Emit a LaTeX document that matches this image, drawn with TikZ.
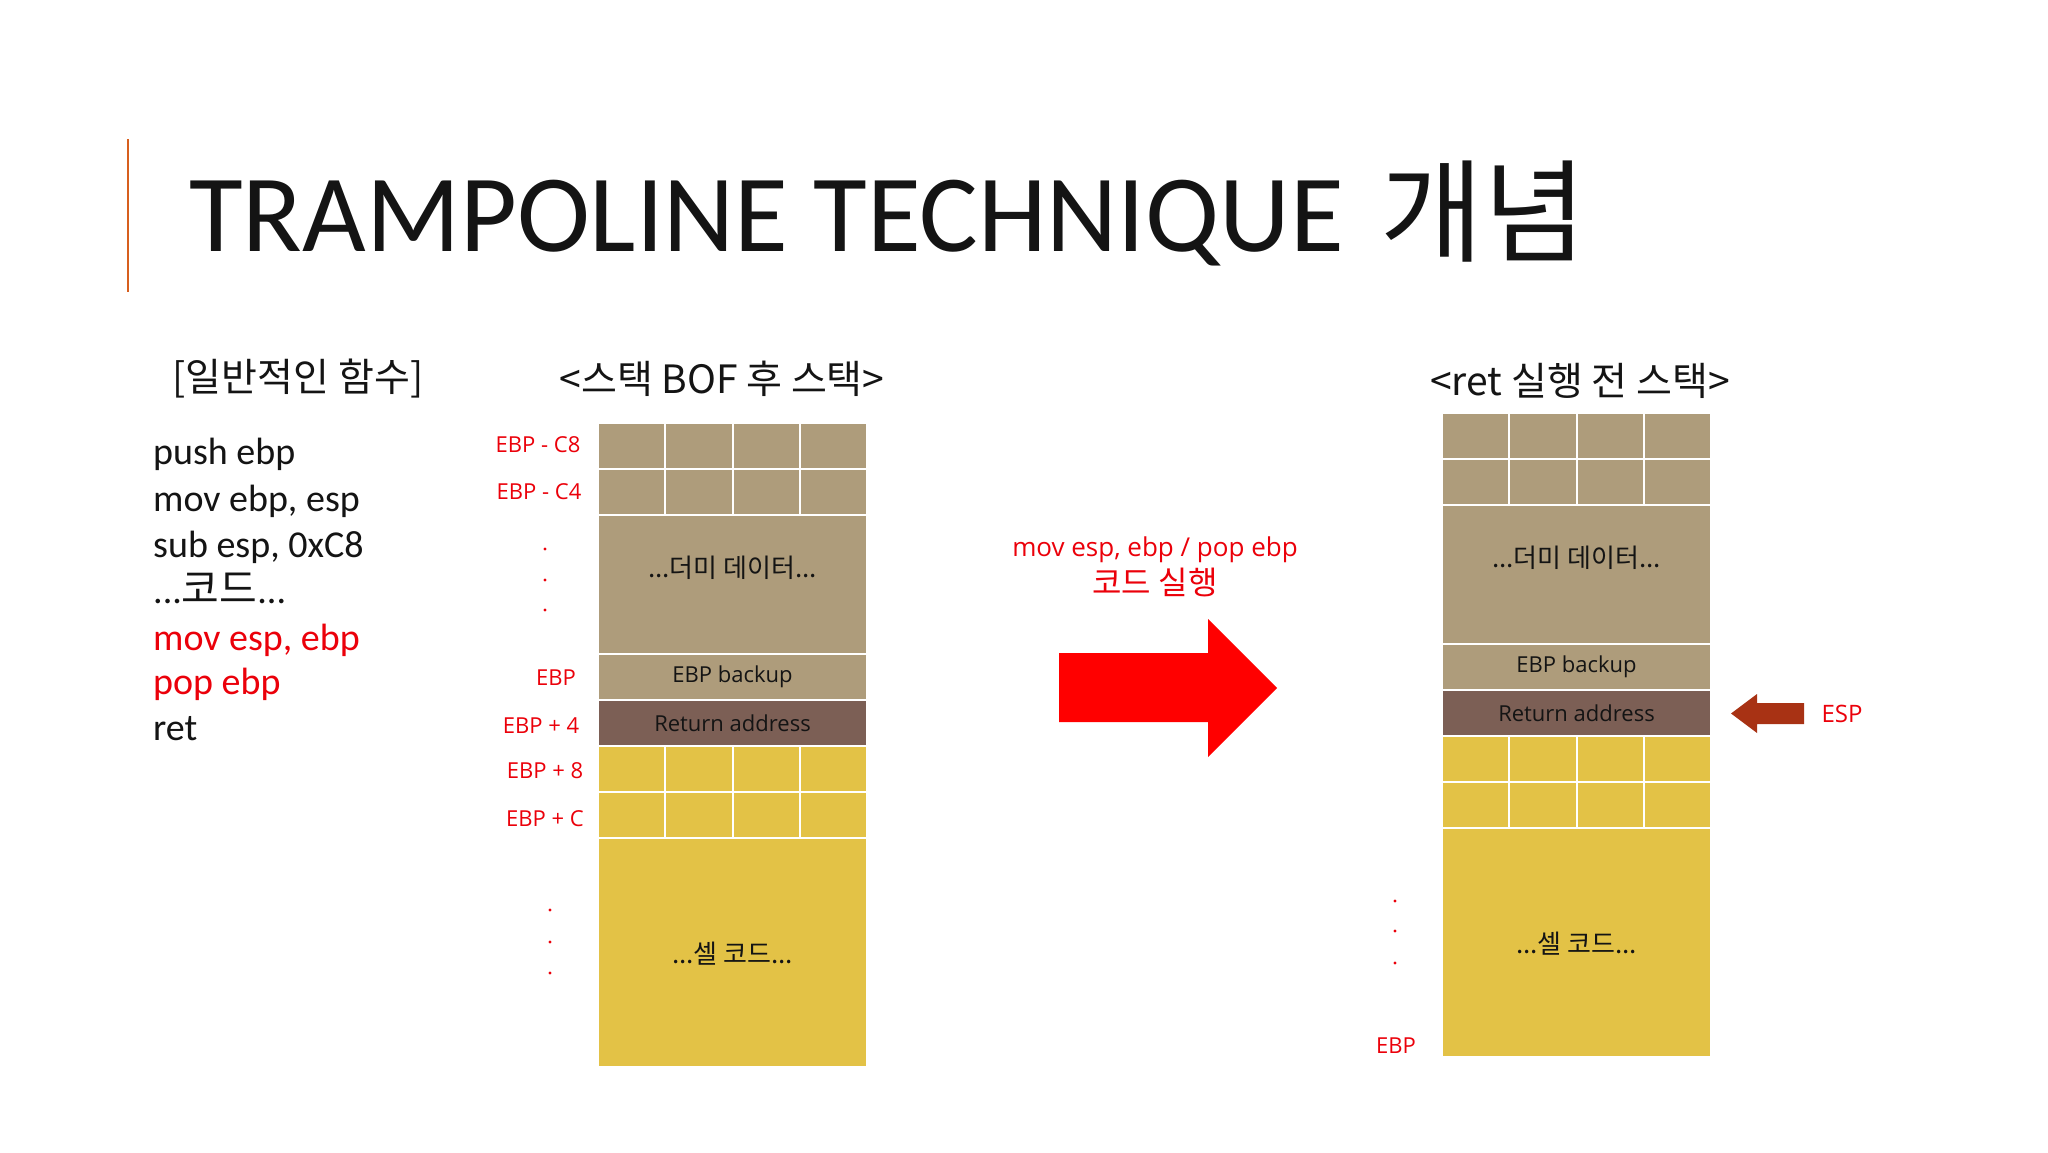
\documentclass[tikz,border=0pt]{standalone}
\usepackage{fontspec}
\setmainfont{Carlito}
\newfontfamily\kr{Noto Sans CJK KR}
\newfontfamily\os{Open Sans}
\definecolor{tanc}{RGB}{174,156,123}
\definecolor{retbrown}{RGB}{124,95,85}
\definecolor{goldc}{RGB}{227,194,70}
\definecolor{lblred}{RGB}{235,0,10}
\definecolor{espred}{RGB}{168,50,20}
\definecolor{accent}{RGB}{215,95,30}
\definecolor{txt}{RGB}{20,20,20}
\tikzset{
  cellbox/.style={rectangle, draw=white, line width=2pt, inner sep=0pt, outer sep=0pt, anchor=north west, text=txt, font=\os\fontsize{22}{26}\selectfont},
  lbl/.style={inner sep=0pt, text=lblred, font=\os\fontsize{22}{26}\selectfont},
  codeline/.style={inner sep=0pt, anchor=base west, text=txt, font=\fontsize{38}{44}\selectfont},
  hdr/.style={inner sep=0pt, text=txt, font=\kr\fontsize{39}{46}\selectfont},
  krtxt/.style={inner sep=0pt, text=txt, font=\kr\fontsize{26}{30}\selectfont}
}
\newcommand{\stackdraw}[1]{%
  \foreach \c in {0,1,2,3} {
    \node[cellbox, fill=tanc, minimum width=67.25, minimum height=46] (#1a\c) at (\c*67.25,0) {};
    \node[cellbox, fill=tanc, minimum width=67.25, minimum height=46] (#1b\c) at (\c*67.25,46) {};
    \node[cellbox, fill=goldc, minimum width=67.25, minimum height=46] (#1c\c) at (\c*67.25,323) {};
    \node[cellbox, fill=goldc, minimum width=67.25, minimum height=46] (#1d\c) at (\c*67.25,369) {};
  }
  \node[cellbox, fill=tanc, minimum width=269, minimum height=139] (#1dummy) at (0,92) {};
  \node[krtxt] (#1dummytxt) at (134.5,145) {...더미 데이터...};
  \node[cellbox, fill=tanc, minimum width=269, minimum height=46] (#1bak) at (0,231) {EBP backup};
  \node[cellbox, fill=retbrown, minimum width=269, minimum height=46] (#1ret) at (0,277) {Return address};
  \node[cellbox, fill=goldc, minimum width=269, minimum height=229] (#1shell) at (0,415) {};
  \node[krtxt] (#1shelltxt) at (134.5,531) {...셀 코드...};
}
\begin{document}
\begin{tikzpicture}[x=1pt,y=-1pt]
\useasboundingbox[fill=white] (0,0) rectangle (2048,1152);

% title
\draw[accent, line width=2.2pt] (128,139) -- (128,292);
\node[inner sep=0pt, anchor=base west, text=txt, font=\fontsize{110}{120}\selectfont] (title) at (189,251) {TRAMPOLINE TECHNIQUE};
\node[inner sep=0pt, anchor=base west, text=txt, font=\kr\fontsize{112}{120}\selectfont] (titlekr) at (1380,253) {개념};

% left code
\node[hdr] (h1) at (298,379) {[일반적인 함수]};
\node[codeline] (c1) at (153,464) {push ebp};
\node[codeline] (c2) at (153,511) {mov ebp, esp};
\node[codeline] (c3) at (153,557) {sub esp, 0xC8};
\node[codeline] (c4) at (153,603) {...{\kr\fontsize{41}{46}\selectfont 코드}...};
\node[codeline, text=lblred] (c5) at (153,650) {mov esp, ebp};
\node[codeline, text=lblred] (c6) at (153,694) {pop ebp};
\node[codeline] (c7) at (153,740) {ret};

% headers
\node[hdr] (h2) at (722,379) {<스택 BOF 후 스택>};
\node[hdr] (h3) at (1580,381) {<ret 실행 전 스택>};

% stacks
\begin{scope}[shift={(598,423)}]
\stackdraw{L}
\end{scope}
\begin{scope}[shift={(1442,413)}]
\stackdraw{R}
\end{scope}

% left labels
\node[lbl] (l1) at (538,445) {EBP - C8};
\node[lbl] (l2) at (539,492) {EBP - C4};
\foreach \yy [count=\i] in {549,580,610} \fill[lblred] (545,\yy) circle (1.6) coordinate (ld\i);
\node[lbl] (l3) at (556,678) {EBP};
\node[lbl] (l4) at (541,726) {EBP + 4};
\node[lbl] (l5) at (545,771) {EBP + 8};
\node[lbl] (l6) at (545,819) {EBP + C};
\foreach \yy [count=\i] in {910,942,973} \fill[lblred] (550,\yy) circle (1.6) coordinate (le\i);

% right labels
\foreach \yy [count=\i] in {901,931,963} \fill[lblred] (1395,\yy) circle (1.6) coordinate (rd\i);
\node[lbl] (r1) at (1396,1046) {EBP};
\node[lbl, font=\os\fontsize{24}{28}\selectfont] (esp) at (1842,714) {ESP};
\fill[espred] (1804,703) -- (1757,703) -- (1757,694) -- (1731,713.5) -- (1757,733) -- (1757,724) -- (1804,724) -- cycle;

% middle annotation and arrow
\node[inner sep=0pt, text=lblred, font=\os\fontsize{26}{30}\selectfont] (m1) at (1155,550) {mov esp, ebp / pop ebp};
\node[inner sep=0pt, text=lblred, font=\kr\fontsize{32}{36}\selectfont] (m2) at (1155,582) {코드 실행};
\fill[red] (1059,653) -- (1208,653) -- (1208,619) -- (1277,688) -- (1208,757) -- (1208,722) -- (1059,722) -- cycle;
\end{tikzpicture}
\end{document}
